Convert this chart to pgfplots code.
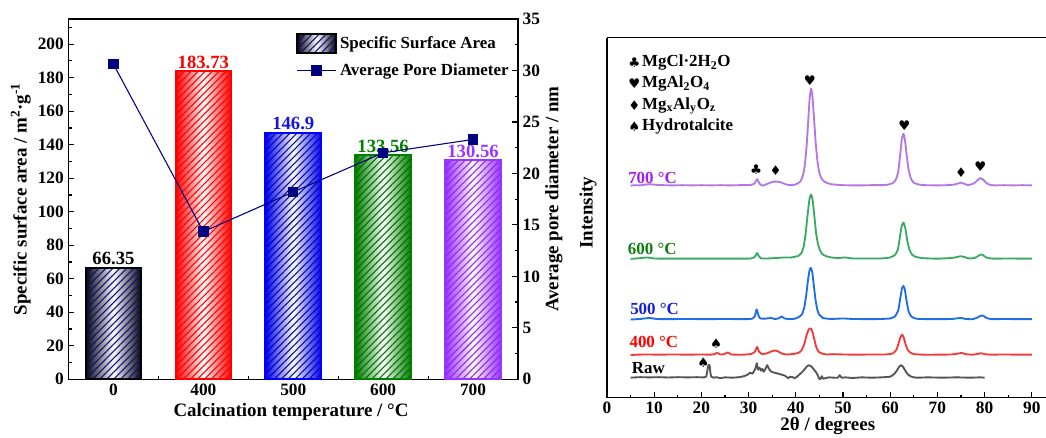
\documentclass[border=0pt]{standalone}
\usepackage{pgfplots}
\usepackage{pgfplotstable}
\pgfplotsset{compat=1.18}
\usetikzlibrary{patterns.meta}
\usepackage{fontspec}
\setmainfont{Liberation Serif}
\newfontfamily\symfont{DejaVu Sans}

% ---------- colours ----------
\definecolor{navyline}{RGB}{0,0,128}
\definecolor{hatchnavy}{RGB}{10,10,140}
\definecolor{barred}{RGB}{255,0,0}
\definecolor{barblue}{RGB}{0,0,255}
\definecolor{bargreen}{RGB}{0,128,0}
\definecolor{hatchgreen}{RGB}{0,110,0}
\definecolor{barpurple}{RGB}{153,51,255}
\definecolor{hatchpurple}{RGB}{140,40,240}
\definecolor{labblue}{RGB}{20,20,230}
\definecolor{cRaw}{RGB}{85,85,85}
\definecolor{cFour}{RGB}{240,60,60}
\definecolor{cFive}{RGB}{30,110,230}
\definecolor{cSix}{RGB}{60,170,100}
\definecolor{cSeven}{RGB}{180,120,230}
\definecolor{tFive}{RGB}{20,30,210}
\definecolor{tSix}{RGB}{16,128,16}
\definecolor{tSeven}{RGB}{160,32,240}

\newcommand{\tickfont}{\bfseries\fontsize{13}{14}\selectfont}
\newcommand{\labfont}{\bfseries\fontsize{14.2}{16}\selectfont}
\newcommand{\annfont}{\bfseries\fontsize{12.7}{14}\selectfont}
\newcommand{\valfont}{\bfseries\fontsize{14}{15}\selectfont}
\newcommand{\suit}{\symfont\fontsize{10}{10}\selectfont}

\pgfplotsset{
  /pgf/number format/assume math mode=true,
  every tick label/.append style={font=\tickfont},
  every tick/.append style={line width=0.9pt, black},
  major tick length=4.3pt,
  minor tick length=2.3pt,
  % gradient body of a bar
  shadebar/.style={ybar, bar width=0.62, bar shift=0pt, draw=none,
    left color=#1, right color=#1, middle color=white},
  % hatching and outline drawn over it
  hatchbar/.style 2 args={ybar, bar width=0.62, bar shift=0pt, draw=#1, line width=1.5pt,
    pattern={Lines[angle=45,distance=3.7pt,line width=0.8pt]}, pattern color=#2},
  barlegend/.style={legend image code/.code={
    \draw[draw=none, left color=black, right color=black, middle color=white]
      (0pt,-7.3pt) rectangle (29.5pt,7.3pt);
    \draw[draw=black, line width=1.5pt,
      pattern={Lines[angle=45,distance=3.7pt,line width=0.8pt]}, pattern color=hatchnavy]
      (0pt,-7.3pt) rectangle (29.5pt,7.3pt);}},
  linelegend/.style={legend image code/.code={
    \draw[##1, mark repeat=2, mark phase=2] plot coordinates {(0pt,0pt) (14.75pt,0pt) (29.5pt,0pt)};}},
}

% ---------- XRD patterns (intensity above each trace's baseline) ----------
\pgfplotstableread{
t I
5 0
6 0.5
7 0.3
8 1
9 1.5
10 1
12 0.5
14 0.3
16 0.5
18 0.3
20 0.5
22 0.3
24 0.5
26 0.3
28 0.5
29.5 0.5
30.5 0.8
31.2 2
31.6 5
31.85 6.5
32.1 4
32.5 1
33 0
33.8 1.5
34.6 3
35.3 4
36 4
36.7 3.5
37.5 2
38.3 0.8
39 0.5
39.8 1
40.5 2.5
41 4.5
41.5 10
41.9 20
42.3 40
42.65 66
42.95 88
43.25 97
43.55 88
43.85 68
44.2 44
44.55 26
44.9 15
45.3 8.5
45.8 5
46.5 3
47.5 1.5
48.5 1
50 0.5
52 0.3
54 0.3
56 0.5
58 0.5
59.5 1
60.5 2.5
61.2 6
61.7 14
62.1 30
62.45 46
62.8 52
63.15 45
63.5 30
63.9 16
64.4 7
65 3
66 1.2
67.5 0.5
70 0.3
72 0.5
73.5 1
74.4 2.2
75 3
75.6 2
76.3 0.8
77 1
77.8 2.5
78.5 5.5
79.1 7.5
79.6 6.5
80.2 3.5
80.9 1.2
82 0.3
84 0.5
86 0.3
88 0.5
90 0.3
}\xrdSeven

\pgfplotstableread{
t I
5 0
7 0.8
8.5 1.5
10 0.5
12 0.3
15 0.3
20 0.3
25 0.3
29 0.3
30.5 0.5
31.3 2
31.8 6
32.2 2.5
32.7 0.5
34 0.5
36 1
37.5 1.5
39 1.5
40.5 3
41.2 6
41.7 13
42.1 26
42.5 44
42.9 60
43.25 64.5
43.6 58
43.95 42
44.3 26
44.7 15
45.1 9
45.6 5
46.3 3
47.5 1.5
49 1
50.5 1.5
52 0.5
55 0.5
58 0.5
60 1.5
61 4
61.6 9
62.0 20
62.4 32
62.8 36.5
63.2 31
63.6 19
64.1 9
64.7 4
65.5 2
67 0.8
70 0.3
73 1
74.2 2
75 2.8
75.8 1.8
76.8 0.5
78 1.2
78.8 3.5
79.4 4.5
79.9 3
80.6 1
82 0.3
85 0.5
88 0.3
90 0.3
}\xrdSix

\pgfplotstableread{
t I
5 0
7 0.5
9 1.5
10.5 0.5
13 0.3
17 0.5
21 0.3
25 0.5
29 0.3
30.8 0.8
31.3 3
31.7 10
32.1 4
32.5 1
33.5 0.8
34.8 1.5
35.5 0.5
36.3 1
37 3
37.6 1
38.5 0.5
39.5 0.5
40.5 2
41.3 5
41.8 12
42.2 24
42.6 40
42.95 50
43.2 51.5
43.5 47
43.85 33
44.2 19
44.6 9
45 4.5
45.4 3
45.7 1.5
46.3 1
47.5 0.5
50 1
52 0.5
56 0.3
58 0.5
60 1
61 3
61.7 9
62.1 20
62.5 31
62.8 33.5
63.1 30
63.5 18
63.9 8
64.4 3.5
65 1.5
66 0.5
70 0.3
73 0.5
75 1.5
76 0.5
77.5 0.3
78.5 2
79.3 4
79.8 3.5
80.4 1.5
81.5 0.3
84 0.5
87 0.3
90 0.3
}\xrdFive

\pgfplotstableread{
t I
5 0
8 0.5
11 0.3
14 0.5
17 0.3
20 0.5
21.5 0.3
22.5 0.5
23.4 2
24 0.5
24.8 0.8
25.6 2.5
26.3 0.5
27.5 0.3
29 0.3
30.5 1
31.3 3
31.8 8
32.2 3.5
32.8 1
33.8 1.5
34.8 3.5
35.6 4.5
36.3 3.5
37 1.5
38 0.5
39.5 1
40.5 2
41.2 4.5
41.8 11
42.3 20
42.8 26
43.2 26.5
43.6 22
44 14
44.4 7
44.9 3
45.5 1.5
46.5 0.5
48 0.8
50 0.5
53 0.3
56 0.5
59 0.5
60.5 1.5
61.3 5
61.8 12
62.2 18
62.55 20.3
62.9 17
63.3 10
63.8 4.5
64.4 2
65.2 0.8
67 0.3
70 0.3
73 0.5
74.5 1.5
75.2 2
76 0.8
77.5 0.3
78.5 1
79.3 1.8
80 0.8
81.5 0.3
84 0.5
87 0.3
90 0.3
}\xrdFour

\pgfplotstableread{
t I
5 0
7 0.5
9 0.3
11 0.5
13 0.2
15 0.5
17 0.3
19 0.5
20.5 0.3
21 1
21.2 5
21.4 11
21.55 13
21.75 12
21.9 5
22.1 1
22.5 0
23.2 0.5
24 -0.5
25 0.3
26.5 0
28 0.5
29 1.5
29.8 3
30.3 5
30.8 4
31.2 7
31.5 10
31.75 14.5
32 8
32.3 10
32.6 7
32.9 9
33.2 6
33.6 9
33.95 12.5
34.3 9
34.8 6
35.5 5
36.3 4
37 3
37.7 2
38.4 -0.5
38.8 1
39.3 0.5
39.8 -0.5
40.5 2
41.2 5
41.8 8
42.4 11.5
42.8 12.5
43.2 11.5
43.7 9
44.2 6
44.6 3
45 -1.5
45.3 -1
45.5 1.5
45.8 -1
46.3 -0.5
47 0.3
48 0
48.9 0
49.3 2.5
49.7 0
50.5 0.3
52 -0.3
54 0.3
56 0
58 0.3
60 1
60.8 3.5
61.4 7
61.9 11
62.3 12.5
62.7 11
63.2 7
63.8 3
64.5 1
65.5 0
68 0.3
71 0
74 0.3
77 0
79 0.3
80 0
}\xrdRaw

\begin{document}
\begin{tikzpicture}
\useasboundingbox (0,0) rectangle (784.5pt,327.75pt);

% ================= left: BET surface area and pore size =================
\begin{axis}[
  scale only axis, width=337.1pt, height=270.2pt,
  at={(51.4pt,43.3pt)}, anchor=south west,
  axis line style={line width=1.1pt},
  xmin=-0.5, xmax=4.5, ymin=0, ymax=215,
  xtick={0,1,2,3,4}, xticklabels={0,400,500,600,700},
  minor xtick={0.5,1.5,2.5,3.5},
  ytick={0,20,...,200}, minor ytick={10,30,...,210},
  xtick pos=left, ytick pos=left,
  xlabel={Calcination temperature / °C},
  ylabel={Specific surface area / m\textsuperscript{2}·g\textsuperscript{-1}},
  every axis x label/.style={at={(axis description cs:0.495,-0.102)}, anchor=base, font=\labfont},
  every axis y label/.style={at={(axis description cs:-0.1063,0.5)}, rotate=90, anchor=center, font=\labfont},
]
\addplot[shadebar=black] coordinates {(0,66.35)};
\addplot[hatchbar={black}{hatchnavy}] coordinates {(0,66.35)};
\addplot[shadebar=barred] coordinates {(1,183.73)};
\addplot[hatchbar={barred}{barred}] coordinates {(1,183.73)};
\addplot[shadebar=barblue] coordinates {(2,146.9)};
\addplot[hatchbar={barblue}{hatchnavy}] coordinates {(2,146.9)};
\addplot[shadebar=bargreen] coordinates {(3,133.56)};
\addplot[hatchbar={bargreen}{hatchgreen}] coordinates {(3,133.56)};
\addplot[shadebar=barpurple] coordinates {(4,130.56)};
\addplot[hatchbar={barpurple}{hatchpurple}] coordinates {(4,130.56)};
% value labels above the bars
\addplot[draw=none, mark=none, nodes near coords, nodes near coords style={text=black, font=\valfont, anchor=south, inner sep=2pt}] coordinates {(0,66.35)};
\addplot[draw=none, mark=none, nodes near coords, nodes near coords style={text=barred, font=\valfont, anchor=south, inner sep=2pt}] coordinates {(1,183.73)};
\addplot[draw=none, mark=none, nodes near coords, nodes near coords style={text=labblue, font=\valfont, anchor=south, inner sep=2pt}] coordinates {(2,146.9)};
\addplot[draw=none, mark=none, nodes near coords, nodes near coords style={text=bargreen, font=\valfont, anchor=south, inner sep=2pt}] coordinates {(3,133.56)};
\addplot[draw=none, mark=none, nodes near coords, nodes near coords style={text=barpurple, font=\valfont, anchor=south, inner sep=2pt}] coordinates {(4,130.56)};
\end{axis}

\begin{axis}[
  scale only axis, width=337.1pt, height=270.2pt,
  at={(51.4pt,43.3pt)}, anchor=south west,
  xmin=-0.5, xmax=4.5, ymin=0, ymax=35,
  axis x line=none, axis y line*=right,
  axis line style={-, line width=1.1pt},
  ytick={0,5,...,35}, minor ytick={2.5,7.5,...,32.5},
  ylabel={Average pore diameter / nm},
  every axis y label/.style={at={(axis description cs:1.080,0.5)}, rotate=90, anchor=center, font=\labfont},
  legend style={at={(axis description cs:0.5055,0.962)}, anchor=north west,
    draw=none, fill=none, font=\annfont, inner sep=0pt, row sep=5pt,
    nodes={inner sep=2pt}},
  legend cell align=left,
]
\addlegendimage{barlegend}
\addlegendentry{Specific Surface Area}
\addplot[navyline, line width=0.8pt, mark=square*, mark size=3.5pt, mark options={fill=navyline}, linelegend]
  coordinates {(0,30.6) (1,14.34) (2,18.2) (3,22.0) (4,23.3)};
\addlegendentry{Average Pore Diameter}
\end{axis}

% ================= right: XRD patterns =================
\begin{axis}[
  scale only axis, width=329.2pt, height=270pt,
  at={(455.25pt,29.5pt)}, anchor=south west,
  xmin=0, xmax=93, ymin=0, ymax=360,
  axis x line*=box, axis y line*=left,
  axis line style={-, line width=1.1pt},
  xtick={0,10,...,90}, minor xtick={5,15,...,85}, xtick pos=left,
  ytick=\empty,
  xlabel={2θ / degrees}, ylabel={Intensity},
  every axis x label/.style={at={(axis description cs:0.503,-0.092)}, anchor=base, font=\labfont},
  every axis y label/.style={at={(axis description cs:-0.0433,0.514)}, rotate=90, anchor=center, font=\labfont},
  clip=false,
]
\addplot[cRaw, line width=1.4pt, line join=round, smooth, tension=0.3] table[x=t, y expr=\thisrow{I}+20] {\xrdRaw};
\addplot[cFour, line width=1.4pt, line join=round, smooth, tension=0.3] table[x=t, y expr=\thisrow{I}+42.7] {\xrdFour};
\addplot[cFive, line width=1.4pt, line join=round, smooth, tension=0.3] table[x=t, y expr=\thisrow{I}+78.2] {\xrdFive};
\addplot[cSix, line width=1.4pt, line join=round, smooth, tension=0.3] table[x=t, y expr=\thisrow{I}+138.7] {\xrdSix};
\addplot[cSeven, line width=1.4pt, line join=round, smooth, tension=0.3] table[x=t, y expr=\thisrow{I}+212] {\xrdSeven};

% trace labels
\node[anchor=base west, inner sep=0pt, font=\annfont, text=tSeven] at (axis cs:4.45,214.4) {700 °C};
\node[anchor=base west, inner sep=0pt, font=\annfont, text=tSix] at (axis cs:4.38,143.4) {600 °C};
\node[anchor=base west, inner sep=0pt, font=\annfont, text=tFive] at (axis cs:4.87,83.4) {500 °C};
\node[anchor=base west, inner sep=0pt, font=\annfont, text=barred] at (axis cs:4.72,50) {400 °C};
\node[anchor=base west, inner sep=0pt, font=\annfont, text=black] at (axis cs:5.2,24.4) {Raw};

% phase markers
\node[font=\suit] at (axis cs:31.6,228.4) {♣};
\node[font=\suit] at (axis cs:35.7,226.7) {♦};
\node[font=\suit] at (axis cs:43.0,316.7) {♥};
\node[font=\suit] at (axis cs:63.0,272.4) {♥};
\node[font=\suit] at (axis cs:75.0,225) {♦};
\node[font=\suit] at (axis cs:79.1,231) {♥};
\node[font=\suit] at (axis cs:23.1,54.4) {♠};
\node[font=\suit] at (axis cs:20.4,35) {♠};

% phase key
\node[font=\suit] at (axis cs:5.8,335) {♣};
\node[font=\suit] at (axis cs:5.8,314) {♥};
\node[font=\suit] at (axis cs:5.8,292.5) {♦};
\node[font=\suit] at (axis cs:5.8,271) {♠};
\node[anchor=base west, inner sep=0pt, font=\annfont] at (axis cs:7.4,331) {MgCl·2H\textsubscript{2}O};
\node[anchor=base west, inner sep=0pt, font=\annfont] at (axis cs:7.4,310) {MgAl\textsubscript{2}O\textsubscript{4}};
\node[anchor=base west, inner sep=0pt, font=\annfont] at (axis cs:7.4,288.4) {Mg\textsubscript{x}Al\textsubscript{y}O\textsubscript{z}};
\node[anchor=base west, inner sep=0pt, font=\annfont] at (axis cs:7.4,267) {Hydrotalcite};
\end{axis}
\end{tikzpicture}
\end{document}
